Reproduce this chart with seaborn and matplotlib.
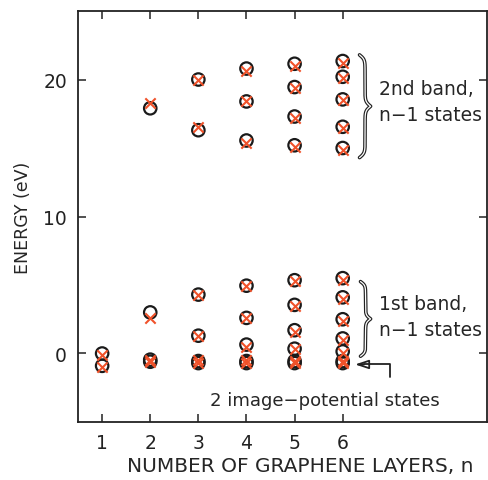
import numpy as np
import pandas as pd
import matplotlib
matplotlib.use("Agg")
import matplotlib.pyplot as plt
import seaborn as sns

# energies (eV), per number of layers n
n_layers = [1, 2, 3, 4, 5, 6]
circle_E = [
    [0.0, -0.9],
    [-0.45, -0.6, 3.0, 17.9],
    [-0.55, -0.7, 1.3, 4.3, 16.3, 20.0],
    [-0.55, -0.7, 0.65, 2.6, 4.95, 15.55, 18.4, 20.8],
    [-0.55, -0.7, 0.35, 1.7, 3.55, 5.35, 15.2, 17.3, 19.45, 21.15],
    [-0.55, -0.7, 0.15, 1.1, 2.5, 4.1, 5.5, 15.0, 16.55, 18.55, 20.2, 21.35],
]
cross_E = [
    [-0.1, -1.0],
    [-0.45, -0.65, 2.6, 18.3],
    [-0.5, -0.7, 1.3, 4.25, 16.5, 20.0],
    [-0.5, -0.7, 0.5, 2.6, 4.9, 15.4, 18.4, 20.65],
    [-0.55, -0.7, 0.3, 1.6, 3.5, 5.3, 15.05, 17.2, 19.4, 21.0],
    [-0.55, -0.7, 0.05, 1.0, 2.4, 4.0, 5.4, 14.85, 16.45, 18.5, 20.1, 21.2],
]

df_c = pd.DataFrame([(n, e) for n, es in zip(n_layers, circle_E) for e in es], columns=["n", "E"])
df_x = pd.DataFrame([(n, e) for n, es in zip(n_layers, cross_E) for e in es], columns=["n", "E"])

sns.set_style("ticks")
plt.rcParams["font.family"] = ["DejaVu Sans"]
plt.rcParams["font.size"] = 13.5

fig = plt.figure(figsize=(4.88, 4.81), dpi=100)
ax = fig.add_axes([0.16, 0.1206, 0.838, 0.8544])

sns.scatterplot(data=df_c, x="n", y="E", ax=ax, marker="o", s=80,
                facecolor="none", edgecolor="#1a1a1a", linewidth=1.6, zorder=3)
sns.scatterplot(data=df_x, x="n", y="E", ax=ax, marker="x", s=55,
                color="#f0522a", linewidth=1.5, zorder=4)

ax.set_xlim(0.5, 9.0)
ax.set_ylim(-5, 25)
ax.set_xticks(n_layers)
ax.set_yticks([0, 10, 20])
ax.tick_params(direction="in", length=6, width=1.1, top=True, right=True,
               labelsize=13.5, pad=8, colors="#222222")
for sp in ax.spines.values():
    sp.set_linewidth(1.3)
    sp.set_color("#222222")
ax.set_xlabel("NUMBER OF GRAPHENE LAYERS, n", fontsize=14.5)
ax.xaxis.set_label_coords(0.543, -0.082)
ax.set_ylabel("ENERGY (eV)", fontsize=12.5, labelpad=8)


def brace(ax, x0, w, ymin, ymax, k=45):
    t = np.linspace(0, 0.5, 200)
    f = 1 / (1 + np.exp(-k * t)) + 1 / (1 + np.exp(-k * (t - 0.5)))
    f = f - 0.5
    xs = np.concatenate([f, f[::-1]])
    ts = np.concatenate([t, 1 - t[::-1]])
    xx = x0 + w * xs
    yy = ymax - (ymax - ymin) * ts
    ax.plot(xx, yy, color="#222222", lw=2.6, solid_capstyle="round", clip_on=False)
    ax.plot(xx, yy, color="white", lw=0.9, clip_on=False)


brace(ax, 6.35, 0.23, 14.3, 21.8)
brace(ax, 6.37, 0.21, -0.2, 5.25, k=40)

ax.text(6.76, 18.4, "2nd band,\nn\u22121 states", ha="left", va="center",
        fontsize=13.5, linespacing=1.45)
ax.text(6.76, 2.7, "1st band,\nn\u22121 states", ha="left", va="center",
        fontsize=13.5, linespacing=1.45)

ax.plot([6.99, 6.99, 6.45], [-1.75, -0.8, -0.8], color="#222222", lw=1.3)
ax.annotate("", xy=(6.2, -0.8), xytext=(6.5, -0.8),
            arrowprops=dict(arrowstyle="-|>,head_length=0.6,head_width=0.2",
                            color="#222222", lw=1.3, fill=False))
ax.text(5.63, -3.4, "2 image\u2212potential states", ha="center", va="center", fontsize=13)

fig.savefig("out.png", dpi=100)
